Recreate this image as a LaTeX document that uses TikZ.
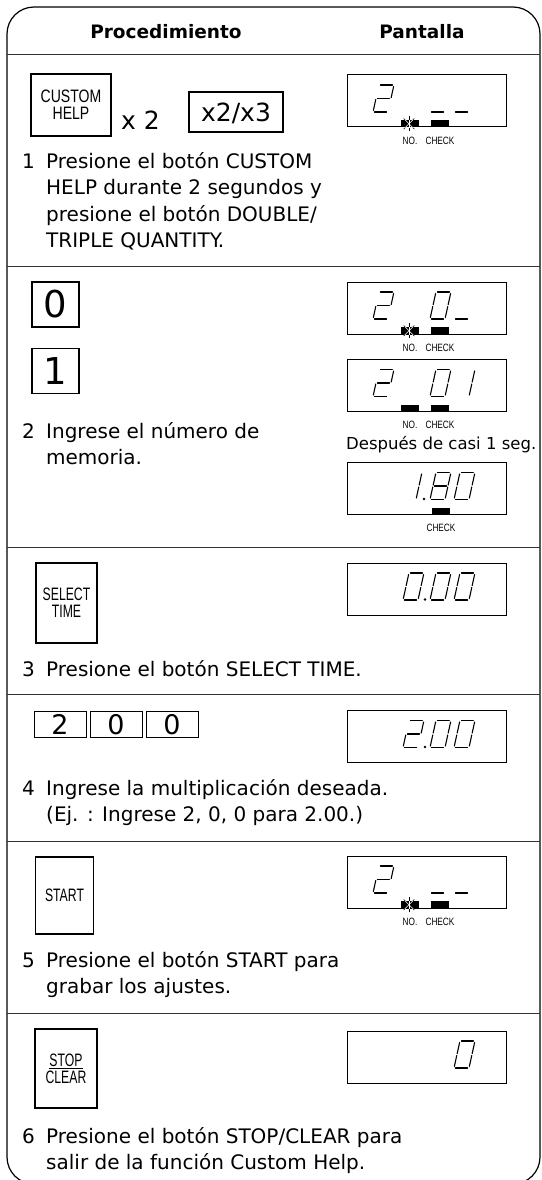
\documentclass[tikz,border=0pt]{standalone}
\usepackage{fontspec}
\setmainfont{DejaVu Sans}
\newfontfamily\keyfont{Liberation Sans}[FakeStretch=0.68]
\newfontfamily\custfont{Liberation Sans}[FakeStretch=0.78]
\usetikzlibrary{positioning}

\newcommand\bodysize{\fontsize{20}{26.5}\selectfont}

\tikzset{lcdline/.style={line width=1.1pt, line cap=round}}

% seven segment pieces (origin = bottom left, slanted by the scope)
\newcommand\sgpiece[1]{%
  \if#1a\draw[lcdline] (1.5,-27) -- (13.5,-27);\fi
  \if#1b\draw[lcdline] (15,-25.5) -- (15,-14.5);\fi
  \if#1c\draw[lcdline] (15,-12.5) -- (15,-1.5);\fi
  \if#1d\draw[lcdline] (1.5,0) -- (13.5,0);\fi
  \if#1e\draw[lcdline] (0,-1.5) -- (0,-12.5);\fi
  \if#1f\draw[lcdline] (0,-14.5) -- (0,-25.5);\fi
  \if#1g\draw[lcdline] (1.5,-13.5) -- (13.5,-13.5);\fi}

\newcommand\lcdnum[3]{%
  \begin{scope}[shift={(#1,#2)}, xslant=0.22]
    \foreach \s in {#3} {\sgpiece{\s}}
  \end{scope}}

\newcommand\flags[1]{%
  \node[blk] (#1no) at ([xshift=-16.5pt]#1.south) {};
  \node[blk] (#1ck) at ([xshift=13.5pt]#1.south) {};
  \node[lbl, below=9pt of #1no] (#1nol) {NO.};
  \node[lbl, below=9pt of #1ck] (#1ckl) {CHECK};}

\newcommand\blink[1]{%
  \foreach \a in {45,90,135} {\draw[line width=0.6pt] ([xshift=-1pt]#1.center) ++(\a:7.5) -- ++(\a+180:15);}
  \begin{scope}
    \clip (#1.south west) rectangle (#1.north east);
    \foreach \a in {45,90,135} {\draw[white, line width=0.6pt] ([xshift=-1pt]#1.center) ++(\a:7.5) -- ++(\a+180:15);}
  \end{scope}}

\begin{document}
\begin{tikzpicture}[x=1pt, y=-1pt,
    frm/.style={line width=1.2pt, rounded corners=27pt},
    rule/.style={line width=1pt, black!80},
    hd/.style={anchor=base, inner sep=0pt, font=\fontsize{18.5}{22}\selectfont\bfseries},
    num/.style={anchor=base east, inner sep=0pt, font=\bodysize},
    txt/.style={anchor=base west, inner sep=0pt, font=\bodysize},
    key/.style={draw, line width=1.5pt, inner sep=0pt, align=center},
    keylbl/.style={font=\keyfont\fontsize{18}{17}\selectfont},
    custlbl/.style={font=\custfont\fontsize{18}{17}\selectfont},
    disp/.style={draw, line width=1pt, minimum width=159pt, minimum height=52pt, inner sep=0pt},
    blk/.style={fill=black, minimum width=18pt, minimum height=7pt, inner sep=0pt, anchor=south},
    lbl/.style={inner sep=0pt, font=\custfont\fontsize{10.6}{11}\selectfont},
]
\useasboundingbox (0,0) rectangle (541,1180);
\clip (0,0) rectangle (541,1180);

\draw[frm] (7,1184) -- (7,7) -- (540,7) -- (540,1184) -- cycle;

% header
\node[hd] (hproc) at (166,39) {Procedimiento};
\node[hd] (hpant) at (422,39) {Pantalla};
\draw[rule] (7,55) -- (540,55);

% step 1
\node[key, custlbl, minimum width=80pt, minimum height=62pt] (kcust) at (71,105) {CUSTOM\\HELP};
\node[anchor=base west, inner sep=0pt, font=\fontsize{25}{25}\selectfont] (ktimes) at (121,129) {x 2};
\node[key, text depth=0pt, font=\fontsize{25}{25}\selectfont, minimum width=94pt, minimum height=40pt] (kx) at (236,112) {x2/x3};
\node[disp] (d1) at (426.5,101) {};
\lcdnum{373}{112}{a,b,g,e,d}
\lcdnum{430}{112}{d}
\lcdnum{454}{112}{d}
\flags{d1}
\blink{d1no}
\node[num] (n1) at (35,168) {1};
\node[txt] (t1) at (46,168) {\parbox[t]{420pt}{Presione el botón CUSTOM\\HELP durante 2 segundos y\\presione el botón DOUBLE/\\TRIPLE QUANTITY.}};
\draw[rule] (7,266.5) -- (540,266.5);

% step 2
\node[key, font=\fontsize{37}{37}\selectfont, minimum width=47pt, minimum height=45pt] (k0) at (55.5,304.5) {0};
\node[key, font=\fontsize{37}{37}\selectfont, minimum width=47pt, minimum height=45pt] (k1) at (55.5,371) {1};
\node[disp] (d2) at (426.5,308) {};
\lcdnum{373}{319}{a,b,g,e,d}
\lcdnum{430}{319}{a,b,c,d,e,f}
\lcdnum{454}{319}{d}
\flags{d2}
\blink{d2no}
\node[disp] (d3) at (426.5,385.5) {};
\lcdnum{373}{396.5}{a,b,g,e,d}
\lcdnum{430}{396.5}{a,b,c,d,e,f}
\lcdnum{454}{396.5}{b,c}
\flags{d3}
\node[anchor=base west, inner sep=0pt, font=\fontsize{16.5}{20}\selectfont] (twait) at (346,449) {Después de casi 1 seg.};
\node[disp] (d4) at (426.5,488.5) {};
\lcdnum{401}{499.5}{b,c}
\fill (424,499) circle (1.3);
\lcdnum{430}{499.5}{a,b,c,d,e,f,g}
\lcdnum{454}{499.5}{a,b,c,d,e,f}
\node[blk] (d4ck) at ([xshift=14.5pt]d4.south) {};
\node[lbl, below=9pt of d4ck] (d4ckl) {CHECK};
\node[num] (n2) at (35,438) {2};
\node[txt] (t2) at (46,438) {\parbox[t]{420pt}{Ingrese el número de\\memoria.}};
\draw[rule] (7,547) -- (540,547);

% step 3
\node[key, keylbl, minimum width=61pt, minimum height=80pt] (ksel) at (66.5,603) {SELECT\\TIME};
\node[disp] (d5) at (426.5,589) {};
\lcdnum{403}{600}{a,b,c,d,e,f}
\fill (425,599.5) circle (1.3);
\lcdnum{430}{600}{a,b,c,d,e,f}
\lcdnum{454}{600}{a,b,c,d,e,f}
\node[num] (n3) at (35,676) {3};
\node[txt] (t3) at (46,676) {Presione el botón SELECT TIME.};
\draw[rule] (7,694.5) -- (540,694.5);

% step 4
\node[key, line width=1pt, font=\fontsize{27}{27}\selectfont, minimum width=52pt, minimum height=26pt] (k2) at (60,724.5) {2};
\node[key, line width=1pt, font=\fontsize{27}{27}\selectfont, minimum width=52pt, minimum height=26pt, right=3pt of k2] (k0b) {0};
\node[key, line width=1pt, font=\fontsize{27}{27}\selectfont, minimum width=52pt, minimum height=26pt, right=3pt of k0b] (k0c) {0};
\node[disp] (d6) at (426.5,736.5) {};
\lcdnum{403}{747.5}{a,b,g,e,d}
\fill (425,747) circle (1.3);
\lcdnum{430}{747.5}{a,b,c,d,e,f}
\lcdnum{454}{747.5}{a,b,c,d,e,f}
\node[num] (n4) at (35,795) {4};
\node[txt] (t4) at (46,795) {\parbox[t]{420pt}{Ingrese la multiplicación deseada.\\(Ej. : Ingrese 2, 0, 0 para 2.00.)}};
\draw[rule] (7,841) -- (540,841);

% step 5
\node[key, keylbl, minimum width=58pt, minimum height=77pt] (kstart) at (64.5,895.5) {START};
\node[disp] (d7) at (426.5,882) {};
\lcdnum{373}{893}{a,b,g,e,d}
\lcdnum{430}{893}{d}
\lcdnum{454}{893}{d}
\flags{d7}
\blink{d7no}
\node[num] (n5) at (35,967) {5};
\node[txt] (t5) at (46,967) {\parbox[t]{420pt}{Presione el botón START para\\grabar los ajustes.}};
\draw[rule] (7,1013) -- (540,1013);

% step 6
\node[key, keylbl, minimum width=62pt, minimum height=79pt] (kstop) at (66,1068.5) {\underline{STOP}\\CLEAR};
\node[disp] (d8) at (426.5,1057) {};
\lcdnum{454}{1068}{a,b,c,d,e,f}
\node[num] (n6) at (35,1143) {6};
\node[txt] (t6) at (46,1143) {\parbox[t]{420pt}{Presione el botón STOP/CLEAR para\\salir de la función Custom Help.}};
\end{tikzpicture}
\end{document}
